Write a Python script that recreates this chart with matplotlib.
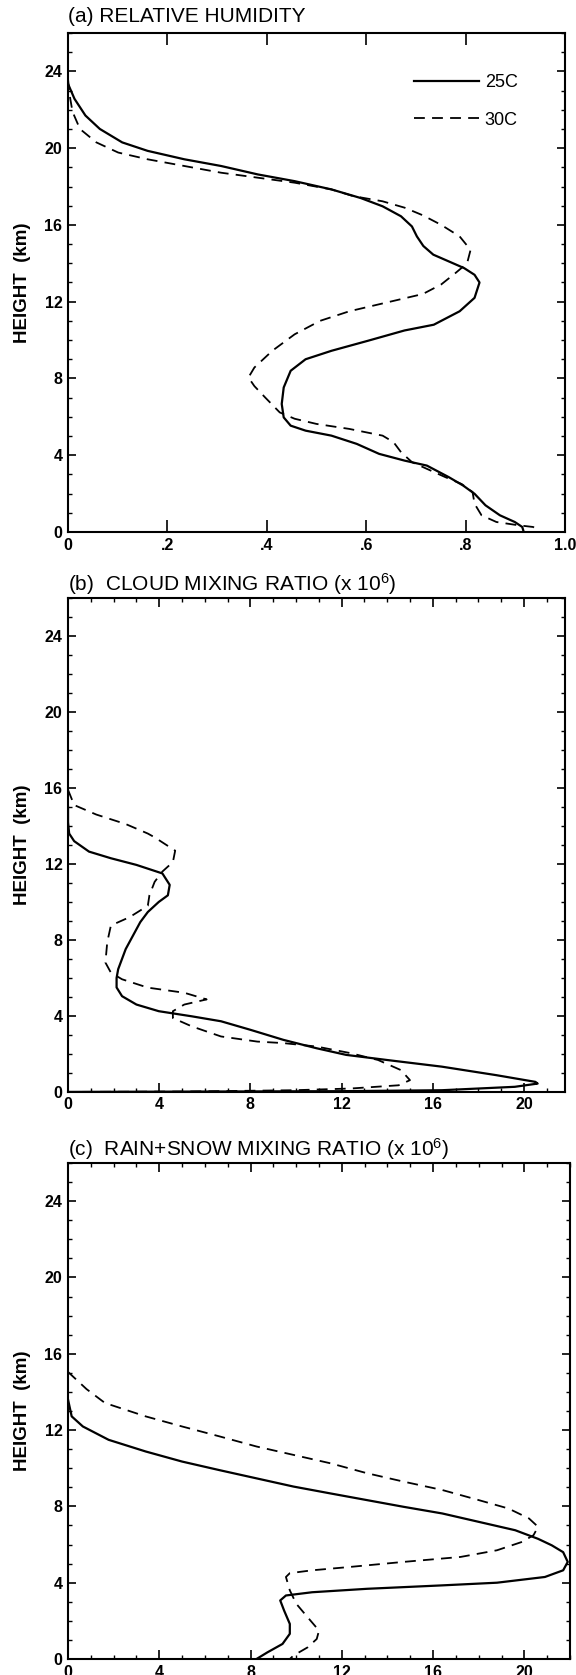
import numpy as np
import matplotlib.pyplot as plt
from matplotlib.ticker import MultipleLocator

plt.rcParams['font.family'] = ['Liberation Sans', 'DejaVu Sans']
plt.rcParams['mathtext.default'] = 'regular'

# (a) relative humidity, 25C (solid) and 30C (dashed)
rh25 = [0, 0.013, 0.035, 0.064, 0.109, 0.16, 0.234, 0.308, 0.382, 0.456, 0.53, 0.589, 0.633,
        0.67, 0.692, 0.702, 0.715, 0.735, 0.766, 0.797, 0.818, 0.828, 0.818, 0.788, 0.736, 0.677,
        0.603, 0.53, 0.478, 0.448, 0.434, 0.43, 0.434, 0.448, 0.478, 0.53, 0.581, 0.626,
        0.677, 0.722, 0.766, 0.795, 0.818, 0.84, 0.869, 0.899, 0.914, 0.917]
z_rh25 = [23.35, 22.57, 21.7, 21.0, 20.3, 19.86, 19.42, 19.07, 18.63, 18.28, 17.85, 17.4, 16.97,
          16.45, 15.92, 15.4, 14.9, 14.45, 14.1, 13.75, 13.4, 13.0, 12.2, 11.5, 10.8, 10.5,
          9.96, 9.44, 9.0, 8.4, 7.53, 6.67, 5.97, 5.54, 5.28, 5.02, 4.59, 4.07,
          3.72, 3.46, 2.86, 2.42, 1.99, 1.39, 0.87, 0.52, 0.26, 0]
rh30 = [0, 0.003, 0.009, 0.024, 0.057, 0.101, 0.16, 0.234, 0.308, 0.382, 0.456, 0.53, 0.574,
        0.633, 0.677, 0.714, 0.751, 0.788, 0.81, 0.803, 0.78, 0.751, 0.714, 0.64, 0.566,
        0.507, 0.456, 0.411, 0.375, 0.363, 0.375, 0.397, 0.426, 0.456, 0.5, 0.566, 0.633,
        0.655, 0.67, 0.692, 0.722, 0.759, 0.792, 0.814, 0.818, 0.832, 0.862, 0.906, 0.936, 0.95]
z_rh30 = [23.6, 22.8, 21.9, 21.0, 20.3, 19.77, 19.42, 19.07, 18.72, 18.46, 18.2, 17.85, 17.5,
          17.23, 16.9, 16.5, 16.0, 15.4, 14.7, 14.0, 13.5, 12.9, 12.4, 11.95, 11.5,
          11.0, 10.3, 9.44, 8.57, 8.05, 7.6, 7.0, 6.23, 5.9, 5.63, 5.37, 5.02,
          4.68, 4.16, 3.64, 3.29, 2.86, 2.5, 2.08, 1.47, 0.87, 0.52, 0.35, 0.26, 0]

# (b) cloud mixing ratio (x 10^6)
qc25 = [0, 0, 0.05, 0.27, 0.92, 1.88, 3.0, 4.14, 4.46, 4.38, 3.98, 3.5, 3.17, 2.85, 2.53, 2.2,
        2.13, 2.13, 2.37, 3.0, 3.98, 5.43, 6.71, 8.0, 9.45, 10.9, 12.2, 14.0, 16.4, 18.8,
        20.5, 20.6, 19.6, 16.4, 12.0, 6.0, 0]
z_qc25 = [15.0, 14.2, 13.6, 13.2, 12.65, 12.3, 11.95, 11.5, 10.9, 10.35, 10.0, 9.47, 8.94, 8.23,
          7.52, 6.46, 6.0, 5.5, 5.04, 4.6, 4.25, 3.98, 3.72, 3.27, 2.74, 2.3, 1.95, 1.68,
          1.33, 0.88, 0.53, 0.44, 0.27, 0.09, 0.04, 0.02, 0]
qc30 = [0, 0.27, 1.24, 2.53, 3.5, 3.8, 4.7, 4.6, 4.14, 3.8, 3.57, 3.5, 2.7, 1.88, 1.72, 1.64,
        1.88, 2.37, 3.5, 5.1, 6.08, 5.1, 4.6, 4.6, 5.43, 6.71, 8.3, 9.45, 10.9, 12.4, 13.6,
        14.6, 15.0, 14.5, 12.4, 9.9, 5.1, 0]
z_qc30 = [15.9, 15.1, 14.6, 14.1, 13.6, 13.4, 12.7, 12.1, 11.6, 11.06, 10.35, 9.8, 9.2, 8.76,
          7.88, 6.81, 6.28, 5.93, 5.49, 5.22, 4.87, 4.6, 4.25, 3.89, 3.45, 2.92, 2.65, 2.57,
          2.39, 2.04, 1.68, 1.15, 0.62, 0.35, 0.18, 0.09, 0.02, 0]

# (c) rain+snow mixing ratio (x 10^6)
qr25 = [0, 0.16, 0.65, 1.78, 3.4, 5.0, 6.64, 8.26, 9.88, 11.5, 13.1, 14.7, 16.4, 18.0, 19.6,
        20.6, 21.2, 21.7, 21.9, 21.7, 20.9, 18.8, 16.4, 13.1, 10.7, 9.55, 9.3, 9.47, 9.72,
        9.72, 9.4, 8.74, 8.26]
z_qr25 = [13.6, 12.72, 12.19, 11.49, 10.88, 10.35, 9.9, 9.47, 9.04, 8.68, 8.33, 7.98, 7.63,
          7.19, 6.75, 6.3, 5.96, 5.6, 5.09, 4.65, 4.3, 4.0, 3.86, 3.68, 3.5, 3.33, 3.07,
          2.54, 1.84, 1.32, 0.79, 0.35, 0]
qr30 = [0, 0.81, 1.62, 3.4, 5.0, 6.64, 8.26, 9.88, 11.5, 13.1, 14.7, 16.4, 18.0, 19.3, 20.2,
        20.6, 20.4, 19.9, 18.8, 17.2, 14.7, 12.3, 10.7, 9.72, 9.55, 9.72, 10.0, 10.5, 11.0,
        10.9, 10.5, 9.88, 9.72]
z_qr30 = [15.05, 14.15, 13.42, 12.72, 12.19, 11.67, 11.14, 10.7, 10.26, 9.74, 9.3, 8.86, 8.33,
          7.89, 7.37, 6.93, 6.49, 6.14, 5.7, 5.35, 5.09, 4.82, 4.65, 4.5, 4.3, 3.6, 2.9,
          2.19, 1.49, 1.05, 0.61, 0.18, 0]

labels = ['25C', '30C']
titles = ['(a) RELATIVE HUMIDITY',
          '(b)  CLOUD MIXING RATIO (x 10$^6$)',
          '(c)  RAIN+SNOW MIXING RATIO (x 10$^6$)']
rh_ticks = [0, 0.2, 0.4, 0.6, 0.8, 1.0]
rh_ticklabels = ['0', '.2', '.4', '.6', '.8', '1.0']
q_ticks = [0, 4, 8, 12, 16, 20]
height_ticks = [0, 4, 8, 12, 16, 20, 24]

fig = plt.figure(figsize=(5.76, 16.75), dpi=100)
ax1 = fig.add_axes([0.1181, 0.6824, 0.8628, 0.2979])
ax2 = fig.add_axes([0.1181, 0.3481, 0.8628, 0.2949])
ax3 = fig.add_axes([0.1181, 0.00955, 0.8715, 0.2961])

solid = dict(color='black', lw=1.6)
dashed = dict(color='black', lw=1.3, linestyle=(0, (6, 4)))

ax1.plot(rh25, z_rh25, label=labels[0], **solid)
ax1.plot(rh30, z_rh30, label=labels[1], **dashed)
ax2.plot(qc25, z_qc25, **solid)
ax2.plot(qc30, z_qc30, **dashed)
ax3.plot(qr25, z_qr25, **solid)
ax3.plot(qr30, z_qr30, **dashed)

ax1.set_xlim(0, 1.0)
ax1.set_xticks(rh_ticks)
ax1.set_xticklabels(rh_ticklabels)
ax2.set_xlim(0, 21.8)
ax3.set_xlim(0, 22)
for ax in (ax2, ax3):
    ax.set_xticks(q_ticks)
    ax.xaxis.set_minor_locator(MultipleLocator(1))

pads = [8, 5, 5]
for ax, t, p in zip((ax1, ax2, ax3), titles, pads):
    ax.set_ylim(0, 26)
    ax.set_yticks(height_ticks)
    ax.yaxis.set_minor_locator(MultipleLocator(1))
    ax.set_title(t, loc='left', fontsize=15, pad=p)
    ax.set_ylabel('HEIGHT  (km)', fontsize=13.5, fontweight='bold', labelpad=10)
    ax.tick_params(which='both', direction='in', top=True, right=True, labelsize=11.5, pad=4)
    ax.tick_params(which='major', length=5.5, width=1.2)
    ax.tick_params(which='minor', length=3, width=1.0)
    ax.tick_params(axis='x', which='major', length=6.5)
    for lab in ax.get_xticklabels() + ax.get_yticklabels():
        lab.set_fontweight('bold')
    for s in ax.spines.values():
        s.set_linewidth(1.5)

ax1.tick_params(axis='x', which='major', length=8.5)

ax1.legend(loc='upper left', bbox_to_anchor=(0.697, 0.918), frameon=False, fontsize=13,
           handlelength=3.6, handletextpad=0.3, labelspacing=1.15, borderpad=0, borderaxespad=0)

fig.savefig('out.png', dpi=100)
